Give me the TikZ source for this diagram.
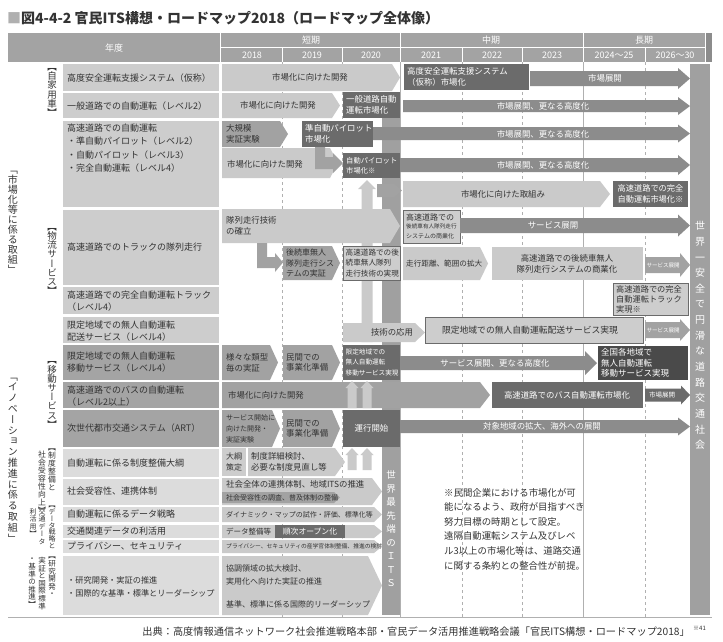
\documentclass[tikz,border=0pt]{standalone}
\usepackage{fontspec}
\setmainfont{Noto Sans CJK JP}
\newfontfamily\vjp[RawFeature=+vert]{Noto Sans CJK JP}
\usetikzlibrary{positioning}
\AtBeginDocument{\lineskiplimit=-20pt}

\definecolor{ink}{HTML}{333333}
\definecolor{hdr}{HTML}{A3A3A3}
\definecolor{cellA}{HTML}{CDCDCD}
\definecolor{cellB}{HTML}{A4A4A4}
\definecolor{cellC}{HTML}{DCDCDC}
\definecolor{lite}{HTML}{CACACA}
\definecolor{mid}{HTML}{A2A2A2}
\definecolor{deep}{HTML}{8C8C8C}
\definecolor{dark}{HTML}{6B6B6B}
\definecolor{darker}{HTML}{4A4A4A}
\definecolor{bar}{HTML}{A0A0A0}
\definecolor{grid}{HTML}{B0B0B0}

% chevron: style, x1, y1, x2, y2, tip depth
\newcommand\chev[6]{\fill[#1] (#2,#3) -- ({#4-#6},#3) -- (#4,{(#3+#5)/2}) -- ({#4-#6},#5) -- (#2,#5) -- cycle;}
% block arrow: style, x1, x2, y centre, half body, half head, head length
\newcommand\flar[7]{\fill[#1] (#2,{#4-#5}) -- ({#3-#7},{#4-#5}) -- ({#3-#7},{#4-#6}) -- (#3,#4) -- ({#3-#7},{#4+#6}) -- ({#3-#7},{#4+#5}) -- (#2,{#4+#5}) -- cycle;}
% upward arrow: style, x centre, y bottom, y tip, half body, half head, head length
\newcommand\uparr[7]{\fill[#1] ({#2-#5},#3) -- ({#2-#5},{#4+#7}) -- ({#2-#6},{#4+#7}) -- (#2,#4) -- ({#2+#6},{#4+#7}) -- ({#2+#5},{#4+#7}) -- ({#2+#5},#3) -- cycle;}

\begin{document}
\begin{tikzpicture}[x=1pt,y=-1pt,
  tx/.style={inner sep=0pt,text=ink,align=left,font=\fontsize{8.4}{10.8}\selectfont},
  txw/.style={tx,text=white},
  rowlab/.style={inner sep=0pt,text=ink,align=left,anchor=west,font=\fontsize{9}{12.5}\selectfont},
  vlab/.style={inner sep=0pt,text=ink,align=center},
  hd/.style={inner sep=0pt,text=white,font=\fontsize{9}{10}\selectfont},
  framed/.style={fill=cellA,draw=dark,line width=0.6}]
\useasboundingbox (0,0) rectangle (723,641);
\fill[white] (0,0) rectangle (723,641);

% title
\node[anchor=west,inner sep=0pt,text=ink,font=\fontsize{14}{16}\selectfont\bfseries] (title) at (7,18)
  {\textcolor{grid}{■}図4-4-2 官民ITS構想・ロードマップ2018（ロードマップ全体像）};

% header
\fill[hdr] (8,33) rectangle (712,62);
\fill[deep] (705,33) rectangle (712,62);
\draw[white,line width=0.8] (220,33) -- (220,62) (400,33) -- (400,62) (583,33) -- (583,62)
  (705,33) -- (705,62) (220,47.5) -- (705,47.5);
\foreach \x in {282,342,462,522,645} \draw[white,line width=0.8] (\x,47.5) -- (\x,62);
\node[hd] (nendo) at (114,48) {年度};
\foreach \x/\lbl/\n in {311/短期/short, 491/中期/middle, 644/長期/long}
  \node[hd] (\n) at (\x,40.5) {\lbl};
\foreach \x/\lbl [count=\i] in {252/2018, 312/2019, 371/2020, 431/2021, 492/2022, 552/2023, 614/2024～25, 675/2026～30}
  \node[hd] (yr\i) at (\x,55) {\lbl};

% grid
\foreach \x in {282,342,462,522,645} \draw[grid,dashed,line width=0.5] (\x,62) -- (\x,617);
\foreach \x in {400,583} \draw[grid,line width=0.6] (\x,62) -- (\x,617);
\draw[grid,line width=0.8] (8,617) -- (712,617);

% row cells
\foreach \a/\b/\c in {64/91/cellA, 93/118/cellA, 121/207/cellA, 210/285/cellA, 287/314/cellA,
  317/343/cellA, 345/380/cellB, 382/408/cellB, 410/447/cellB, 449/477/cellC, 479/505/cellC,
  507/522/cellC, 525/538/cellC, 540/553/cellC, 556/615/cellC}
  \fill[\c] (63,\a) rectangle (219,\b);

\node[rowlab] (r1) at (67,78) {高度安全運転支援システム（仮称）};
\node[rowlab] (r2) at (67,106) {一般道路での自動運転（レベル2）};
\node[rowlab,font=\fontsize{9}{13.3}\selectfont] (r3) at (67,148) {高速道路での自動運転\\・準自動パイロット（レベル2）\\・自動パイロット（レベル3）\\・完全自動運転（レベル4）};
\node[rowlab] (r4) at (67,247) {高速道路でのトラックの隊列走行};
\node[rowlab] (r5) at (67,301) {高速道路での完全自動運転トラック\\（レベル4）};
\node[rowlab] (r6) at (67,331) {限定地域での無人自動運転\\配送サービス（レベル4）};
\node[rowlab] (r7) at (67,362) {限定地域での無人自動運転\\移動サービス（レベル4）};
\node[rowlab] (r8) at (67,396) {高速道路でのバスの自動運転\\（レベル2以上）};
\node[rowlab] (r9) at (67,428) {次世代都市交通システム（ART）};
\node[rowlab] (r10) at (67,463) {自動運転に係る制度整備大綱};
\node[rowlab] (r11) at (67,491) {社会受容性、連携体制};
\node[rowlab] (r12) at (67,514.5) {自動運転に係るデータ戦略};
\node[rowlab] (r13) at (67,531.5) {交通関連データの利活用};
\node[rowlab] (r14) at (67,546.5) {プライバシー、セキュリティ};
\node[rowlab,font=\fontsize{8.2}{13}\selectfont] (r15) at (67,586.5) {・研究開発・実証の推進\\・国際的な基準・標準とリーダーシップ};

% vertical group labels
\node[vlab,font=\vjp\fontsize{9.5}{9.2}\selectfont] (vl1) at (52,92.5) {【\\自\\家\\用\\車\\】};
\node[vlab,font=\vjp\fontsize{10}{10}\selectfont] (vl2) at (13,222) {「\\市\\場\\化\\等\\に\\係\\る\\取\\組\\」};
\node[vlab,font=\vjp\fontsize{9.5}{9.2}\selectfont] (vl3) at (52,261.5) {【\\物\\流\\サ\\ー\\ビ\\ス\\】};
\node[vlab,font=\vjp\fontsize{9.5}{9.2}\selectfont] (vl4) at (52,395) {【\\移\\動\\サ\\ー\\ビ\\ス\\】};
\node[vlab,font=\vjp\fontsize{10}{10.8}\selectfont] (vl5) at (13,460) {「\\イ\\ノ\\ベ\\ー\\シ\\ョ\\ン\\推\\進\\に\\係\\る\\取\\組\\」};
\node[vlab,anchor=north,font=\vjp\fontsize{7.8}{8}\selectfont] (vl6a) at (52,449) {【\\制\\度\\整\\備\\と};
\node[vlab,anchor=north,font=\vjp\fontsize{7.8}{8}\selectfont] (vl6b) at (42,451) {社\\会\\受\\容\\性\\向\\上\\】};
\node[vlab,anchor=north,font=\vjp\fontsize{7}{6.8}\selectfont] (vl7a) at (52,506) {【\\デ\\ー\\タ\\戦\\略\\と};
\node[vlab,anchor=north,font=\vjp\fontsize{7}{7.6}\selectfont] (vl7b) at (42,508) {交\\通\\デ\\ー\\タ};
\node[vlab,anchor=north,font=\vjp\fontsize{7}{7.6}\selectfont] (vl7c) at (33,508) {利\\活\\用\\】};
\node[vlab,anchor=north,font=\vjp\fontsize{7.5}{7.6}\selectfont] (vl8a) at (52,557) {【\\研\\究\\開\\発\\・};
\node[vlab,anchor=north,font=\vjp\fontsize{7.5}{7.6}\selectfont] (vl8b) at (42,557) {実\\証\\と\\国\\際\\標\\準};
\node[vlab,anchor=north,font=\vjp\fontsize{7.5}{7.6}\selectfont] (vl8c) at (32,558) {・\\基\\準\\の\\推\\進\\】};

% vertical bars
\fill[bar] (382,92) rectangle (400,615);
\fill[bar] (690,64) rectangle (710,615);
\uparr{lite}{367}{342}{180}{5.5}{9}{9}

% row 1
\chev{lite}{222}{64}{400}{91}{8}
\node[tx] (a1) at (310,77.5) {市場化に向けた開発};
\fill[dark] (404,64) rectangle (529,90);
\node[txw,anchor=west] (a2) at (407,77) {高度安全運転支援システム\\（仮称）市場化};
\flar{deep}{530}{690}{78.5}{7.5}{10.5}{12}
\node[txw] (a3) at (605,78.5) {市場展開};

% row 2
\chev{lite}{222}{93}{340}{118}{8}
\node[tx] (b1) at (278,105.5) {市場化に向けた開発};
\fill[dark] (343,92) rectangle (400,118);
\node[txw,anchor=west] (b2) at (346,105) {一般道路自動\\運転市場化};
\flar{deep}{403}{690}{106}{6}{9}{12}
\node[txw] (b3) at (543,106) {市場展開、更なる高度化};

% row 3
\chev{lite}{222}{148}{338}{178}{8}
\node[tx,anchor=west] (c1) at (227,164) {市場化に向けた開発};
\chev{mid}{222}{121}{288}{147}{8}
\node[tx,anchor=west] (c2) at (226,134) {大規模\\実証実験};
\fill[dark] (302,121) rectangle (373,147);
\node[txw,anchor=west] (c3) at (305,134) {準自動パイロット\\市場化};
\flar{deep}{373}{690}{133.5}{6.5}{9}{12}
\node[txw] (c4) at (543,134) {市場展開、更なる高度化};
\fill[mid] (315,147) -- (325,147) -- (325,157) -- (333,157) -- (333,153) -- (343,163) -- (333,173) -- (333,169) -- (315,169) -- cycle;
\fill[dark] (343,153) rectangle (400,178);
\node[txw,anchor=west,font=\fontsize{7.3}{10.5}\selectfont] (c5) at (346,165.5) {自動パイロット\\市場化※};
\flar{deep}{400}{690}{165}{7}{10}{12}
\node[txw] (c6) at (543,165) {市場展開、更なる高度化};
\chev{mid}{377}{184}{402}{197}{8}
\chev{lite}{403}{181}{610}{207}{10}
\node[tx] (c7) at (503,194) {市場化に向けた取組み};
\fill[dark] (613,181) rectangle (688,207);
\node[txw,font=\fontsize{8.2}{10.5}\selectfont] (c8) at (650.5,194) {高速道路での完全\\自動運転市場化※};

% row 4
\chev{lite}{222}{209}{400}{243}{10}
\node[tx,anchor=west] (d1) at (226,226) {隊列走行技術\\の確立};
\filldraw[framed] (403,210) rectangle (460,243);
\node[tx,anchor=west,font=\fontsize{8}{9}\selectfont] (d2) at (406,217) {高速道路での};
\node[tx,anchor=west,font=\fontsize{5.6}{6}\selectfont] (d3) at (406,226.5) {後続車有人隊列走行};
\node[tx,anchor=west,font=\fontsize{6}{7}\selectfont] (d4) at (406,236) {システムの商業化};
\flar{deep}{460}{690}{225.5}{7.5}{11}{12}
\node[txw] (d5) at (553,225.5) {サービス展開};
\fill[mid] (257,243) -- (267,243) -- (267,257) -- (275,257) -- (275,253) -- (283,262.5) -- (275,272) -- (275,268) -- (257,268) -- cycle;
\chev{mid}{283}{246}{340}{280}{8}
\node[tx,anchor=west,font=\fontsize{8}{10.3}\selectfont] (d6) at (286,263) {後続車無人\\隊列走行シス\\テムの実証};
\filldraw[framed] (343,246) rectangle (400,280);
\node[tx,anchor=west,font=\fontsize{7.6}{10.3}\selectfont] (d7) at (345.5,263) {高速道路での後\\続車無人隊列\\走行技術の実現};
\chev{lite}{403}{247}{488}{280}{8}
\node[tx,anchor=west,font=\fontsize{7.6}{9}\selectfont] (d8) at (406,263.5) {走行距離、範囲の拡大};
\fill[lite] (492,247) rectangle (643,280);
\node[tx,align=center] (d9) at (567,263.5) {高速道路での後続車無人\\隊列走行システムの商業化};
\flar{mid}{645}{690}{265}{8}{12}{10}
\node[txw,font=\fontsize{5.5}{6}\selectfont] (d10) at (663,265) {サービス展開};

% row 5
\filldraw[framed] (613,283) rectangle (688,315);
\node[tx,anchor=west,font=\fontsize{8.2}{10.2}\selectfont] (e1) at (616,299.5) {高速道路での完全\\自動運転トラック\\実現※};

% row 6
\chev{lite}{343}{323}{425}{342}{10}
\node[tx] (f1) at (392,332.5) {技術の応用};
\filldraw[framed] (425,317) rectangle (643,343);
\node[tx,font=\fontsize{8.8}{10}\selectfont] (f2) at (530,330) {限定地域での無人自動運転配送サービス実現};
\flar{mid}{645}{690}{330}{8}{11}{10}
\node[txw,font=\fontsize{5.5}{6}\selectfont] (f3) at (663,330) {サービス展開};

% row 7
\chev{mid}{222}{345}{278}{380}{8}
\node[tx,anchor=west] (h1) at (226,362.5) {様々な類型\\毎の実証};
\chev{mid}{283}{345}{340}{380}{8}
\node[tx,anchor=west] (h2) at (286,362.5) {民間での\\事業化準備};
\fill[dark] (343,345) rectangle (400,380);
\node[txw,anchor=west,font=\fontsize{6.6}{10.5}\selectfont] (h3) at (345.5,362.5) {限定地域での\\無人自動運転\\移動サービス実現};
\flar{deep}{400}{597}{363}{7}{12}{12}
\node[txw] (h4) at (495,363) {サービス展開、更なる高度化};
\fill[darker] (598,346) rectangle (688,380);
\node[txw,anchor=west,font=\fontsize{8.5}{10.5}\selectfont] (h5) at (601,363) {全国各地域で\\無人自動運転\\移動サービス実現};

% row 8
\chev{mid}{222}{382}{490}{408}{10}
\node[tx,anchor=west] (i1) at (228,395) {市場化に向けた開発};
\uparr{lite}{352}{408}{381}{4.5}{6.5}{7}
\uparr{lite}{367}{408}{381}{4.5}{6.5}{7}
\fill[dark] (492,382) rectangle (643,408);
\node[txw] (i2) at (567,395) {高速道路でのバス自動運転市場化};
\flar{dark}{645}{690}{395}{6.5}{9.5}{9}
\node[txw,font=\fontsize{6.5}{7}\selectfont] (i3) at (662,395) {市場展開};

% row 9
\chev{mid}{222}{410}{280}{447}{8}
\node[tx,anchor=west,font=\fontsize{7}{11}\selectfont] (j1) at (226,428.5) {サービス開始に\\向けた開発・\\実証実験};
\chev{mid}{283}{410}{340}{447}{8}
\node[tx,anchor=west] (j2) at (286,428.5) {民間での\\事業化準備};
\fill[dark] (343,410) rectangle (400,447);
\node[txw] (j3) at (371.5,428.5) {運行開始};
\flar{deep}{400}{690}{426.5}{6.5}{9}{12}
\node[txw] (j4) at (542,426.5) {対象地域の拡大、海外への展開};

% row 10
\fill[cellA] (222,448) rectangle (246,476);
\node[tx,align=center,font=\fontsize{8}{11}\selectfont] (k1) at (234,462) {大綱\\策定};
\chev{lite}{248}{448}{345}{476}{10}
\node[tx,anchor=west] (k2) at (251,462) {制度詳細検討、\\必要な制度見直し等};
\uparr{lite}{352}{470}{448}{4.5}{6.5}{7}
\uparr{lite}{367}{470}{448}{4.5}{6.5}{7}

% row 11
\chev{lite}{222}{478}{382}{505}{10}
\node[tx,anchor=west] (l1) at (226,484.5) {社会全体の連携体制、地域ITSの推進};
\chev{mid}{222}{492}{340}{503}{6}
\node[tx,anchor=west,font=\fontsize{7}{8}\selectfont] (l2) at (226,497.5) {社会受容性の調査、普及体制の整備};

% row 12
\chev{lite}{222}{507}{382}{522}{8}
\node[tx,anchor=west,font=\fontsize{7}{8}\selectfont] (m1) at (226,514.5) {ダイナミック・マップの試作・評価、標準化等};

% row 13
\chev{lite}{222}{525}{382}{538}{8}
\node[tx,anchor=west,font=\fontsize{7.5}{9}\selectfont] (n1) at (226,531.5) {データ整備等};
\fill[dark] (275,525) rectangle (345,537.5);
\node[txw,font=\fontsize{7.8}{9}\selectfont] (n2) at (310,531.3) {順次オープン化};

% row 14
\chev{lite}{222}{540}{382}{553}{8}
\node[tx,anchor=west,font=\fontsize{5.8}{7}\selectfont] (o1) at (226,546.5) {プライバシー、セキュリティの産学官体制整備、推進の検討};

% row 15
\chev{lite}{222}{556}{382}{615}{14}
\node[tx,anchor=west,font=\fontsize{8}{13.5}\selectfont] (p1) at (226,575) {協調領域の拡大検討、\\実用化へ向けた実証の推進};
\node[tx,anchor=west,font=\fontsize{8}{9}\selectfont] (p2) at (226,604) {基準、標準に係る国際的リーダーシップ};

% bar texts
\node[vlab,text=white,font=\vjp\fontsize{9.5}{13.5}\selectfont] (its) at (391,529) {世\\界\\最\\先\\端\\の\\Ｉ\\Ｔ\\Ｓ};
\node[vlab,text=white,font=\vjp\fontsize{10}{15.65}\selectfont] (world) at (700,335.5) {世\\界\\一\\安\\全\\で\\円\\滑\\な\\道\\路\\交\\通\\社\\会};

% note and source
\node[tx,anchor=north west,font=\fontsize{9.4}{14.6}\selectfont] (note) at (444,488)
  {※民間企業における市場化が可\\能になるよう、政府が目指すべき\\努力目標の時期として設定。\\遠隔自動運転システム及びレベ\\ル3以上の市場化等は、道路交通\\に関する条約との整合性が前提。};
\node[anchor=east,inner sep=0pt,text=ink,font=\fontsize{10.2}{12}\selectfont] (src) at (690,632)
  {出典：高度情報通信ネットワーク社会推進戦略本部・官民データ活用推進戦略会議「官民ITS構想・ロードマップ2018」};
\node[anchor=west,inner sep=0pt,text=ink,font=\fontsize{6}{7}\selectfont] (srcref) at (693,628) {※41};
\end{tikzpicture}
\end{document}
